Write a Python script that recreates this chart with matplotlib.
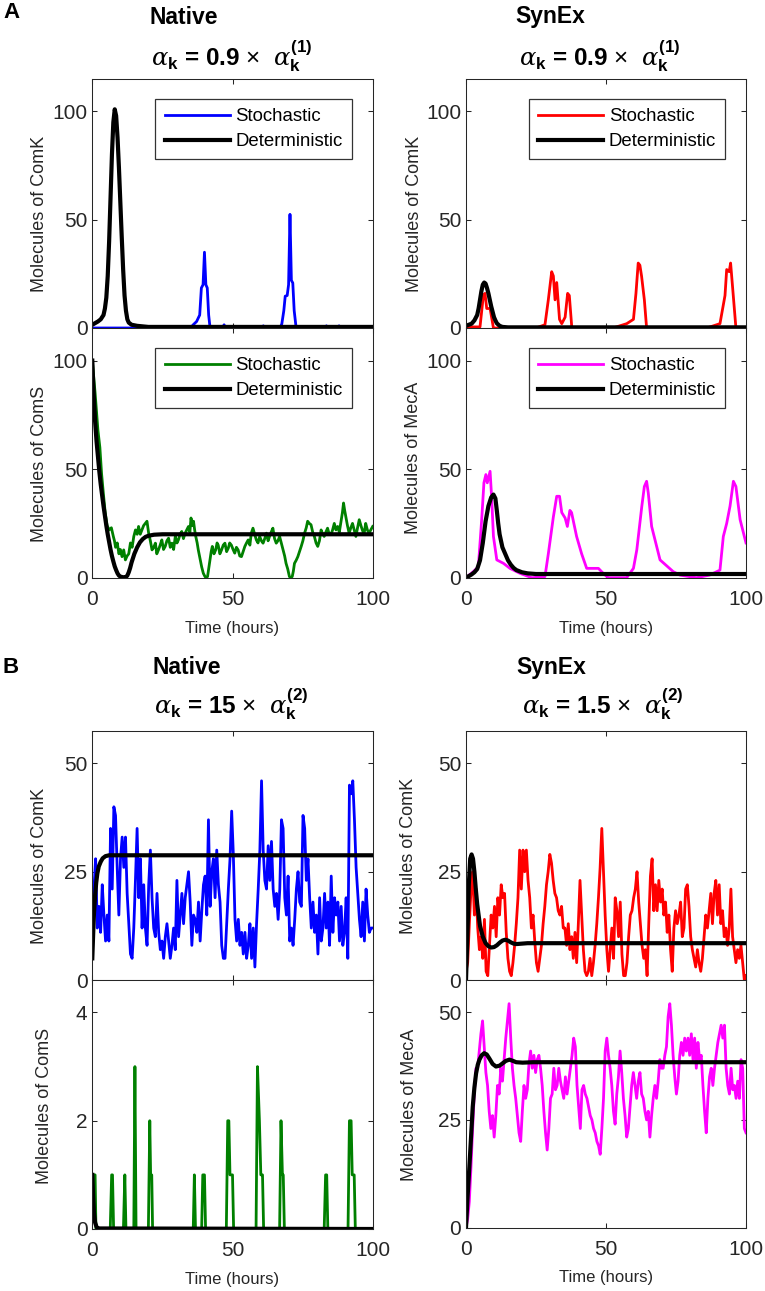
import numpy as np
import matplotlib
matplotlib.use('Agg')
import matplotlib.pyplot as plt

plt.rcParams['font.family'] = ['Liberation Sans', 'DejaVu Sans']
plt.rcParams['mathtext.fontset'] = 'custom'
plt.rcParams['mathtext.rm'] = 'Liberation Sans'
plt.rcParams['mathtext.it'] = 'DejaVu Serif:italic'
plt.rcParams['mathtext.bf'] = 'Liberation Sans:bold'

# ---------------- DATA ----------------
# Panel A, Native ComK
a_nk_sto_t = [0, 35, 36, 37.2, 38.3, 38.9, 39.5, 40.0, 40.5, 41.0, 41.5, 42.0, 46.5, 47.0, 47.5,
              60.5, 61.0, 61.5, 67.0, 67.6, 68.3, 68.8, 69.5, 70.0, 70.5, 71.0, 71.5, 72.0, 72.7,
              83.0, 83.5, 84.0, 87.5, 88.0, 88.5, 100]
a_nk_sto_v = [0, 0, 1.5, 3, 6, 18.5, 20, 35, 20, 18.5, 6, 0, 0, 1.5, 0,
              0, 1, 0, 0, 2, 8, 14.7, 15, 20, 52.5, 22, 20.8, 8, 0,
              0, 1, 0, 0, 1, 0, 0]
a_nk_det_t = [0, 2, 3, 4, 4.5, 5, 5.5, 6, 6.5, 7, 7.5, 8, 8.5, 9, 9.5, 10, 10.5, 11, 11.5, 12,
              12.5, 13, 14, 16, 20, 100]
a_nk_det_v = [1.5, 3, 4, 6, 9, 14, 24, 40, 60, 80, 95, 101, 98, 88, 74, 58, 42, 27, 15, 8,
              4, 2.5, 1.5, 1, 0.5, 0.5]

# Panel A, Native ComS
a_ns_sto_t = [0, 1, 2, 2.7, 3.3, 4, 4.6, 5.3, 6, 6.8,
              7.5, 7.9, 8.3, 8.9, 9.5, 10.0, 10.6, 11.2, 11.8, 12.4,
              13, 13.6, 14.2, 14.8, 15.4, 16.0, 16.5, 17.1, 17.7, 18.3,
              18.9, 19.5, 20.1, 20.7, 21.3, 21.9, 22.5, 23.0, 23.6, 24.2,
              24.8, 25.4, 26, 26.6, 27.2, 27.8, 28.4, 29.0, 29.6, 30.2,
              30.7, 31.3, 31.9, 32.5, 33.1, 33.7, 34.3, 34.8, 35.2, 35.7,
              36.1, 36.5, 36.9, 37.4, 37.8, 38.4, 39, 39.6, 40.2, 40.6,
              41.1, 41.5, 42, 42.4, 42.8, 43.4, 44, 44.5, 44.9, 45.5,
              46.1, 46.7, 47.3, 47.9, 48.5, 49.0, 49.6, 50.2, 50.8, 51.4,
              52, 52.6, 53.2, 53.8, 54.4, 55.0, 55.6, 56.2, 56.7, 57.3,
              57.9, 58.5, 59.1, 59.7, 60.3, 60.9, 61.5, 62.1, 62.7, 63.2,
              63.8, 64.4, 65.0, 65.6, 66.2, 66.8, 67.4, 68, 68.6, 69.1,
              69.7, 70.3, 70.8, 71.3, 71.7, 72.1, 72.7, 73.3, 73.9, 74.5,
              75.1, 75.7, 76.3, 76.8, 77.4, 78, 78.6, 79.2, 79.8, 80.4,
              81.0, 81.6, 82.2, 82.7, 83.3, 83.9, 84.5, 85.1, 85.7, 86.3,
              86.9, 87.5, 88.1, 88.7, 89.2, 89.6, 90.0, 90.4, 91.0, 91.6,
              92.2, 92.8, 93.4, 94, 94.6, 95.2, 95.8, 96.3, 96.9, 97.5,
              98.1, 98.7, 99.3, 100]
a_ns_sto_v = [100, 85, 68, 60, 48, 38, 30, 24, 22, 23,
              19, 17, 14, 16, 11, 13, 9.7, 12.8, 8.2, 10,
              11, 16, 14, 19, 22, 20, 23.6, 20, 22, 24,
              25, 26, 20.5, 17, 12.8, 14, 15.9, 11, 12.8, 15,
              17.4, 13, 14.4, 17, 18.2, 14, 15.9, 13, 19, 16,
              17.4, 20, 21.3, 18, 20.5, 22, 23.6, 21, 27.5, 24,
              26, 22, 19, 16, 12.8, 9, 5, 2, 0.5, 0,
              0.5, 4, 8.2, 12, 14.4, 11, 12.8, 16, 15, 11,
              12.8, 15, 15.9, 12, 13.6, 16, 15, 13, 11.3, 14,
              12.8, 10, 9.7, 12, 14.4, 16, 17.4, 15, 20.5, 22.8,
              20, 17.4, 16, 19, 17, 15.9, 18, 20.5, 17, 19,
              21, 22.8, 18, 15.9, 17, 19, 16, 12.8, 10, 6.6,
              4, 0.5, 0, 0.5, 3, 6.6, 8, 9.7, 12, 14.4,
              17, 20.5, 23, 26, 25, 24.4, 21, 19, 16, 14.4,
              17, 22, 20, 19, 21, 22.8, 20, 19.8, 22, 25,
              22, 23.6, 21, 26, 30, 34.4, 31, 28.2, 24, 20.5,
              23, 25, 22, 19, 23, 26.7, 24, 22, 20, 25,
              22, 20.5, 22, 23.6]
a_ns_det_t = [0, 0.3, 0.6, 1, 1.5, 2, 2.5, 3, 3.5, 4, 4.5, 5, 5.5, 6, 6.5, 7, 7.5, 8, 8.5, 9,
              9.5, 10, 11, 12, 12.5, 13, 13.5, 14, 14.5, 15, 16, 17, 18, 19, 20, 22, 25, 30, 100]
a_ns_det_v = [100, 90, 82, 72, 63, 56, 49, 43, 38, 33, 28.5, 24, 20, 16.5, 13, 10, 7.5, 5.2, 3.5, 2,
              1, 0.5, 0.2, 0.3, 1, 2.5, 4.5, 7, 9, 11, 14, 16.3, 17.8, 18.8, 19.3, 19.8, 20, 20, 20]

# Panel A, SynEx ComK
a_sk_sto_t = [0, 5, 6.2, 6.8, 7.4, 8.6, 9.8, 25, 28.2, 29.4, 30.6, 31.2, 31.8, 32.4, 33.4, 34.2,
              35.4, 36.3, 36.9, 37.8, 52.5, 57.4, 59.8, 60.7, 61.5, 62.1, 62.7, 63.7, 64.5, 86,
              90.7, 92.5, 93.1, 94, 94.5, 95.2, 96.4, 100]
a_sk_sto_v = [0.5, 0.5, 15, 16, 9, 9, 0, 0, 1.5, 13, 26, 24, 13, 21, 4, 2,
              5, 16, 15, 0, 0, 2, 4, 16, 30, 29, 24, 13, 0, 0,
              2, 15, 27, 26, 30, 19, 0, 0]
a_sk_det_t = [0, 2, 3, 4, 4.5, 5, 5.5, 6, 6.5, 7, 7.5, 8, 8.5, 9, 9.5, 10, 10.5, 11, 12, 13, 15, 100]
a_sk_det_v = [1, 2, 3.5, 6, 9, 13, 17, 20, 21, 20.5, 18.5, 16, 13, 10, 7.5, 5, 3.5, 2.2, 1, 0.5, 0.3, 0.3]

# Panel A, SynEx MecA
a_sm_sto_t = [0, 2.6, 4.4, 5.6, 6.4, 7.1, 7.6, 8.6, 9.2, 9.8, 11, 13.4, 15.7, 19.3, 23.5, 28.2,
              29.4, 31.2, 32.4, 33.4, 34.2, 35.4, 36.2, 37.1, 37.7, 39.5, 41.3, 43.1, 47.3, 49,
              50.8, 57.4, 59.8, 61, 62.8, 63.7, 64.5, 65.1, 66.3, 69.3, 74, 76.4, 82.3, 87, 90.7,
              91.9, 93.1, 94.3, 95.5, 96.4, 97.9, 100]
a_sm_sto_v = [0, 2.8, 5, 26.7, 43.7, 47.5, 43.7, 49, 36, 19, 8.2, 6.6, 4.3, 2, 0, 0.5,
              11, 28, 37.5, 37.5, 30, 27.5, 23.6, 31, 30, 19, 11, 4.3, 4.3, 2,
              0, 0, 4.3, 12.8, 33, 42, 44.4, 39, 23.6, 8.2, 2.8, 1.2, 0, 1.2, 3.5,
              19, 25, 33, 44.4, 42, 26.7, 16]
a_sm_det_t = [0, 2, 3, 4, 5, 6, 7, 8, 9, 9.8, 10.5, 11, 11.5, 12, 13, 14, 15, 16, 17, 18, 20, 22, 25, 100]
a_sm_det_v = [0, 1.5, 2.5, 4, 8, 16, 26, 33, 37, 38.3, 36.5, 31, 25, 20, 14, 11, 8, 6, 4.5, 3.5, 2.5, 2, 1.7, 1.7]

# Panel B, Native ComK (uniformly sampled 0..100 h)
b_nk_sto_v = [8, 21, 28, 12, 17, 11, 22, 15, 9, 15, 9, 35, 21, 40, 38, 26, 15, 28, 33, 26, 33, 20, 13,
              6, 5, 12, 23, 35, 19, 28, 12, 22, 12, 8, 22, 30, 19, 12, 10, 20, 11, 7, 9, 5, 10, 13,
              9, 5, 8, 12, 7, 23, 10, 15, 20, 13, 19, 22, 25, 18, 8, 15, 14, 11, 18, 9, 16, 22, 24,
              15, 37, 17, 25, 28, 19, 30, 22, 18, 8, 5, 5, 13, 21, 28, 39, 29, 14, 9, 14, 8, 11, 6,
              11, 5, 8, 13, 5, 12, 3, 13, 21, 30, 46, 30, 23, 21, 31, 23, 32, 21, 17, 20, 14, 21,
              37, 35, 19, 15, 24, 9, 12, 8, 14, 21, 25, 18, 17, 38, 35, 23, 28, 19, 12, 18, 11, 15,
              6, 19, 9, 12, 20, 12, 18, 8, 24, 11, 19, 15, 18, 9, 17, 8, 11, 19, 5, 45, 43, 46, 37,
              26, 20, 14, 10, 18, 9, 21, 15, 11, 12, 12]
b_nk_det_t = [0, 0.3, 0.6, 1, 1.4, 1.8, 2.3, 3, 3.7, 4.7, 6, 100]
b_nk_det_v = [5, 10.5, 15.4, 19.5, 22.5, 24.6, 26.2, 27.3, 28.1, 28.6, 28.8, 28.8]

# Panel B, Native ComS
b_ns_sto_t = [0, 1.0, 1.3, 6.4, 6.9, 7.2, 7.6, 11.1, 11.6, 12.0, 14.8, 15.2, 15.6, 20.0, 20.5, 20.8,
              21.2, 21.5, 36.0, 36.4, 36.8, 39.0, 39.4, 40.0, 40.4, 47.8, 48.3, 48.7, 49.1, 50.0,
              50.4, 58.4, 58.9, 59.6, 60.1, 60.7, 61.1, 66.8, 67.3, 67.8, 68.1, 68.5, 82.7, 83.2,
              83.6, 84.0, 91.2, 91.7, 92.3, 92.7, 93.4, 93.8, 100]
b_ns_sto_v = [1, 1, 0, 0, 1, 1, 0, 0, 1, 0, 0, 3, 0, 0, 2, 1,
              1, 0, 0, 1, 0, 0, 1, 1, 0, 0, 2, 2, 1, 1,
              0, 0, 3, 2, 1, 1, 0, 0, 2, 1, 1, 0, 0, 1,
              1, 0, 0, 2, 2, 1, 1, 0, 0]
b_ns_det_t = [0, 0.3, 0.6, 1, 1.5, 2, 100]
b_ns_det_v = [1, 0.6, 0.3, 0.12, 0.04, 0.01, 0]

# Panel B, SynEx ComK (uniformly sampled 0..100 h)
b_sk_sto_v = [2, 4, 13, 21, 25, 15, 21, 12, 7, 10, 5, 14, 2, 1, 8, 15, 12, 17, 10, 19, 15, 22, 19,
              20, 11, 5, 2, 1, 4, 8, 13, 19, 30, 21, 30, 25, 30, 23, 19, 12, 15, 9, 4, 2, 5, 8, 13,
              17, 22, 25, 29, 27, 23, 20, 19, 16, 15, 17, 12, 12, 8, 13, 7, 10, 5, 11, 4, 13, 23,
              15, 7, 2, 1, 2, 5, 1, 4, 8, 13, 19, 26, 35, 25, 15, 7, 2, 7, 12, 5, 19, 16, 10, 18,
              6, 1, 1, 4, 10, 15, 16, 19, 21, 25, 18, 13, 8, 5, 7, 1, 13, 24, 28, 16, 22, 16, 23,
              18, 21, 15, 18, 11, 15, 7, 2, 12, 16, 13, 15, 18, 10, 12, 21, 22, 17, 10, 7, 5, 3,
              7, 4, 2, 5, 10, 15, 12, 16, 20, 13, 20, 23, 15, 22, 13, 16, 10, 12, 8, 12, 21, 10, 7,
              4, 7, 5, 8, 4, 0, 1]
b_sk_det_t = [0, 0.5, 1, 1.5, 2, 2.5, 3, 3.5, 4, 5, 6, 7, 8, 9, 10, 11, 12, 13, 14, 15, 16, 17,
              18, 20, 22, 25, 30, 100]
b_sk_det_v = [0, 10, 22, 28, 29, 28, 25, 21, 17.5, 12.5, 10, 8.5, 7.8, 7.5, 7.6, 8.0, 8.6, 9.1,
              9.3, 9.1, 8.7, 8.4, 8.3, 8.4, 8.5, 8.5, 8.5, 8.5]

# Panel B, SynEx MecA (uniformly sampled 0..100 h)
b_sm_sto_v = [0, 2, 6, 14, 23, 31, 37, 37, 41, 45, 48, 42, 36, 33, 27, 23, 26, 21, 26, 33, 31, 37,
              34, 39, 44, 48, 52, 44, 37, 33, 30, 26, 22, 20, 27, 33, 30, 32, 38, 41, 37, 40, 36,
              39, 40, 37, 33, 27, 22, 18, 23, 30, 31, 37, 32, 33, 37, 34, 32, 30, 35, 31, 34, 37,
              40, 44, 42, 33, 28, 23, 32, 33, 31, 30, 28, 26, 25, 23, 22, 20, 19, 17, 23, 30, 41,
              44, 40, 37, 33, 27, 24, 31, 35, 41, 36, 30, 26, 21, 23, 28, 33, 36, 33, 30, 34, 36,
              31, 30, 27, 25, 27, 21, 26, 30, 33, 30, 34, 39, 37, 37, 40, 42, 49, 52, 47, 40, 35,
              31, 34, 40, 43, 40, 44, 41, 44, 40, 45, 39, 44, 37, 43, 39, 40, 33, 27, 22, 30, 35,
              37, 33, 37, 40, 43, 45, 47, 44, 47, 37, 33, 31, 37, 32, 33, 30, 34, 30, 39, 37, 23,
              22]
b_sm_det_t = [0, 0.6, 1.2, 1.8, 2.4, 3, 3.6, 4.2, 4.8, 5.6, 6.5, 7.4, 8.3, 9.5, 10.7, 12, 13,
              14.2, 15.5, 16.8, 17.9, 20.2, 24, 100]
b_sm_det_v = [0, 7.5, 14, 21, 28, 32.5, 35.8, 37.8, 39, 40, 40.5, 40.2, 39.3, 38, 37.4, 37.6, 38.1,
              38.7, 39, 38.7, 38.4, 38.3, 38.4, 38.4]

# ---------------- STYLE ----------------
BLUE = (0, 0, 1)
RED = (1, 0, 0)
GREEN = (0, 0.5, 0)
MAGENTA = (1, 0, 1)
DARK = (0.15, 0.15, 0.15)

W, H = 765, 1291
fig = plt.figure(figsize=(W / 100, H / 100), dpi=100)


def make_ax(left, top, right, bottom):
    return fig.add_axes([left / W, 1 - bottom / H, (right - left) / W, (bottom - top) / H])


def style(ax, ylim, yticks, xlabels, ylabel, lab_xy):
    ax.set_xlim(0, 100)
    ax.set_ylim(*ylim)
    ax.set_xticks([0, 50, 100])
    ax.set_yticks(yticks)
    ax.tick_params(direction='in', top=True, right=True, length=3.5, width=0.75,
                   labelsize=15, colors=DARK, labelcolor=DARK)
    ax.tick_params(axis='x', pad=9)
    ax.tick_params(axis='y', pad=3.5)
    if not xlabels:
        ax.set_xticklabels([])
    else:
        ax.set_xlabel('Time (hours)', fontsize=12, color=DARK)
        ax.xaxis.set_label_coords(0.5, -0.172)
    for sp in ax.spines.values():
        sp.set_color(DARK)
        sp.set_linewidth(0.75)
    ax.set_ylabel(ylabel, fontsize=13, color=DARK)
    ax.yaxis.set_label_coords(*lab_xy)


def legend(ax):
    leg = ax.legend(loc='upper right', bbox_to_anchor=(0.926, 0.92), borderaxespad=0,
                    fontsize=13.4, frameon=True, fancybox=False, handlelength=3.5,
                    handletextpad=0.3, labelspacing=0.42, borderpad=0.5)
    leg.get_frame().set_edgecolor('black')
    leg.get_frame().set_linewidth(0.9)


LW_S = 2.0
LW_D = 3.0

LX, RX = (92.3, 372.7), (466, 746)

# Panel A
ax = make_ax(LX[0], 79, LX[1], 328)
ax.plot(a_nk_sto_t, a_nk_sto_v, color=BLUE, lw=LW_S, label='Stochastic')
ax.plot(a_nk_det_t, a_nk_det_v, color='black', lw=LW_D, label='Deterministic')
style(ax, (0, 115), [0, 50, 100], False, 'Molecules of ComK', (-0.158, 0.46))
legend(ax)

ax = make_ax(LX[0], 328, LX[1], 577.7)
ax.plot(a_ns_sto_t, a_ns_sto_v, color=GREEN, lw=LW_S, label='Stochastic')
ax.plot(a_ns_det_t, a_ns_det_v, color='black', lw=LW_D, label='Deterministic')
style(ax, (0, 115), [0, 50, 100], True, 'Molecules of ComS', (-0.158, 0.455))
legend(ax)

ax = make_ax(RX[0], 79, RX[1], 328)
ax.plot(a_sk_sto_t, a_sk_sto_v, color=RED, lw=LW_S, label='Stochastic')
ax.plot(a_sk_det_t, a_sk_det_v, color='black', lw=LW_D, label='Deterministic')
style(ax, (0, 115), [0, 50, 100], False, 'Molecules of ComK', (-0.154, 0.46))
legend(ax)

ax = make_ax(RX[0], 328, RX[1], 577.7)
ax.plot(a_sm_sto_t, a_sm_sto_v, color=MAGENTA, lw=LW_S, label='Stochastic')
ax.plot(a_sm_det_t, a_sm_det_v, color='black', lw=LW_D, label='Deterministic')
style(ax, (0, 115), [0, 50, 100], True, 'Molecules of MecA', (-0.158, 0.48))
legend(ax)

# Panel B
ax = make_ax(LX[0], 731, LX[1], 980)
ax.plot(np.linspace(0, 100, len(b_nk_sto_v)), b_nk_sto_v, color=BLUE, lw=LW_S)
ax.plot(b_nk_det_t, b_nk_det_v, color='black', lw=LW_D)
style(ax, (0, 57.5), [0, 25, 50], False, 'Molecules of ComK', (-0.157, 0.46))

ax = make_ax(LX[0], 980, LX[1], 1229)
ax.plot(b_ns_sto_t, b_ns_sto_v, color=GREEN, lw=LW_S)
ax.plot(b_ns_det_t, b_ns_det_v, color='black', lw=LW_D)
style(ax, (0, 4.6), [0, 2, 4], True, 'Molecules of ComS', (-0.14, 0.496))

ax = make_ax(RX[0], 731, RX[1], 980)
ax.plot(np.linspace(0, 100, len(b_sk_sto_v)), b_sk_sto_v, color=RED, lw=LW_S)
ax.plot(b_sk_det_t, b_sk_det_v, color='black', lw=LW_D)
style(ax, (0, 57.5), [0, 25, 50], False, 'Molecules of ComK', (-0.176, 0.5))

ax = make_ax(RX[0], 980, RX[1], 1227.5)
ax.plot(np.linspace(0, 100, len(b_sm_sto_v)), b_sm_sto_v, color=MAGENTA, lw=LW_S)
ax.plot(b_sm_det_t, b_sm_det_v, color='black', lw=LW_D)
style(ax, (0, 57.5), [0, 25, 50], True, 'Molecules of MecA', (-0.172, 0.496))


# Titles and panel labels
def ftext(x, y, s, **kw):
    fig.text(x / W, 1 - y / H, s, ha='center', va='center', **kw)


ftext(11, 13, 'A', fontsize=16, fontweight='bold')
ftext(11, 667, 'B', fontsize=16, fontweight='bold')
ftext(184, 17, 'Native', fontsize=16.5, fontweight='bold')
ftext(550, 17, 'SynEx', fontsize=16.5, fontweight='bold')
ftext(187, 667, 'Native', fontsize=16.5, fontweight='bold')
ftext(551, 667, 'SynEx', fontsize=16.5, fontweight='bold')

ALPHA_FS = 17.5
ftext(232, 56, r'$\alpha_{\mathbf{k}}$ = 0.9 $\times$  $\alpha_{\mathbf{k}}^{\mathbf{(1)}}$',
      fontsize=ALPHA_FS, fontweight='bold')
ftext(600, 56, r'$\alpha_{\mathbf{k}}$ = 0.9 $\times$  $\alpha_{\mathbf{k}}^{\mathbf{(1)}}$',
      fontsize=ALPHA_FS, fontweight='bold')
ftext(231, 704, r'$\alpha_{\mathbf{k}}$ = 15 $\times$  $\alpha_{\mathbf{k}}^{\mathbf{(2)}}$',
      fontsize=ALPHA_FS, fontweight='bold')
ftext(603, 704, r'$\alpha_{\mathbf{k}}$ = 1.5 $\times$  $\alpha_{\mathbf{k}}^{\mathbf{(2)}}$',
      fontsize=ALPHA_FS, fontweight='bold')

fig.savefig('out.png', dpi=100, facecolor='white')
